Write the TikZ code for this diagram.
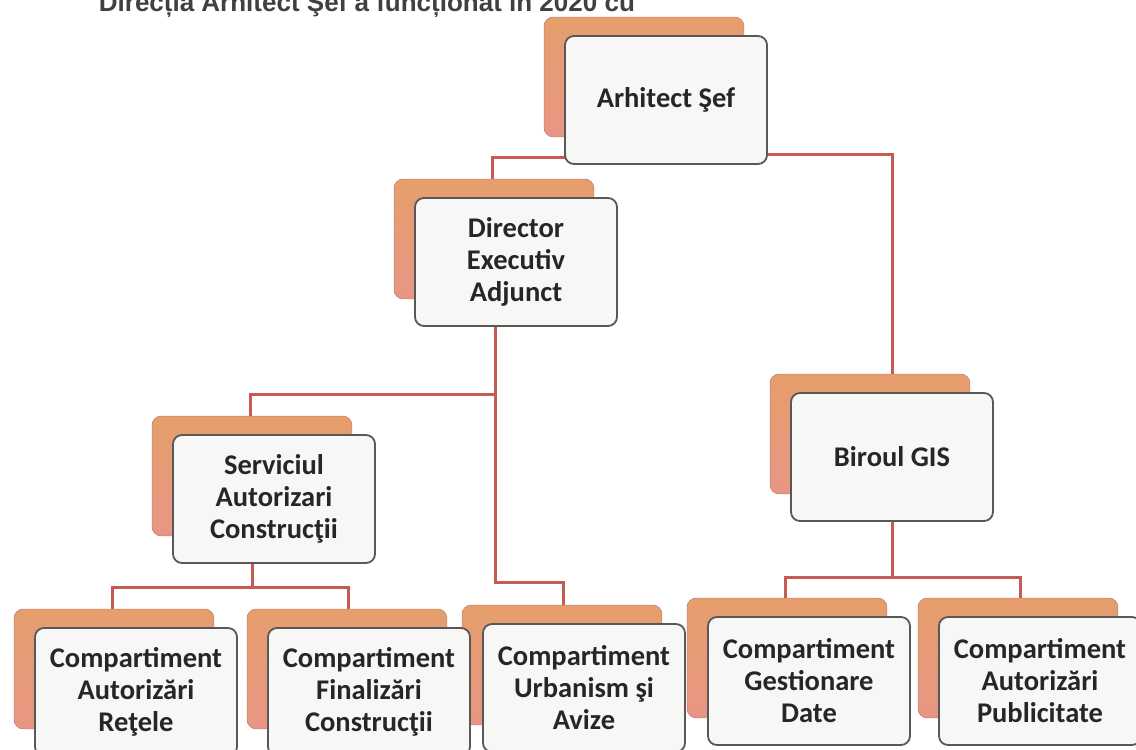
\documentclass[tikz,border=0pt]{standalone}
\usepackage{fontspec}
\setmainfont{Carlito}
\newfontfamily\headfont{Liberation Sans}
\usetikzlibrary{positioning}
\usepackage{xcolor}
\definecolor{linkred}{RGB}{196,92,84}
\definecolor{boxline}{RGB}{88,88,88}
\definecolor{boxfill}{RGB}{247,247,245}
\definecolor{shtop}{RGB}{230,158,108}
\definecolor{shbot}{RGB}{232,150,132}
\pgfdeclarelayer{links}
\pgfdeclarelayer{shadows}
\pgfsetlayers{links,shadows,main}

\begin{document}
\begin{tikzpicture}[
    x=1pt, y=-1pt,
    every node/.style={draw=boxline, line width=1.8pt, fill=boxfill, rounded corners=9pt,
      minimum width=202pt, minimum height=128pt, inner sep=0pt, align=center,
      font=\fontsize{28.5}{32}\selectfont\bfseries, text=black!85},
    link/.style={draw=linkred, line width=3pt}
  ]
  \clip (0,0) rectangle (1136,750);

  % Title, cut off at the top
  \node[draw=none, fill=none, minimum width=0pt, minimum height=0pt, anchor=base west,
    font=\headfont\fontsize{26}{30}\selectfont\bfseries, text=black!75] (title) at (98,11)
    {Direcția Arhitect Şef a funcționat în 2020 cu};

  % Nodes
  \node (sef) at (666,100) {Arhitect Şef};
  \node (dir) at (516,262) {Director\\Executiv\\Adjunct};
  \node (gis) at (892,457) {Biroul GIS};
  \node (serv) at (274,499) {Serviciul\\Autorizari\\Construcţii};
  \node (cr) at (136,692) {Compartiment\\Autorizări\\Reţele};
  \node (cf) at (369,692) {Compartiment\\Finalizări\\Construcţii};
  \node (cu) at (584,688) {Compartiment\\Urbanism şi\\Avize};
  \node (cg) at (809,681) {Compartiment\\Gestionare\\Date};
  \node (cp) at (1040,681) {Compartiment\\Autorizări\\Publicitate};

  % Shadow boxes
  \begin{pgfonlayer}{shadows}
  \foreach \n in {sef,dir,gis,serv,cr,cf,cu,cg,cp}
    \shade[top color=shtop, bottom color=shbot, draw=shbot!85!black, line width=0.6pt, rounded corners=9pt]
      ([xshift=-20pt,yshift=18pt]\n.north west) rectangle ([xshift=-24pt,yshift=28pt]\n.south east);
  \end{pgfonlayer}

  % Links
  \begin{pgfonlayer}{links}
  \fill[white] (0,0) rectangle (1136,750);
  \draw[link] (sef.center) -- ++(0,57) -| ([xshift=-24pt]dir.north);
  \draw[link] (sef.center) -- ++(0,54) -| (gis.north);
  \draw[link] ([xshift=-21pt]dir.south) -- ++(0,256) -| ([xshift=-21pt]cu.north);
  \draw[link] ([xshift=-21pt]dir.south) ++(0,68) -| ([xshift=-24pt]serv.north);
  \draw[link] ([xshift=-22pt]serv.south) -- ++(0,24) -| ([xshift=-24pt]cr.north);
  \draw[link] ([xshift=-22pt]serv.south) ++(0,24) -| ([xshift=-21pt]cf.north);
  \draw[link] (gis.south) -- ++(0,56) -| ([xshift=-24pt]cg.north);
  \draw[link] (gis.south) ++(0,56) -| ([xshift=-20pt]cp.north);
  \end{pgfonlayer}
\end{tikzpicture}
\end{document}
